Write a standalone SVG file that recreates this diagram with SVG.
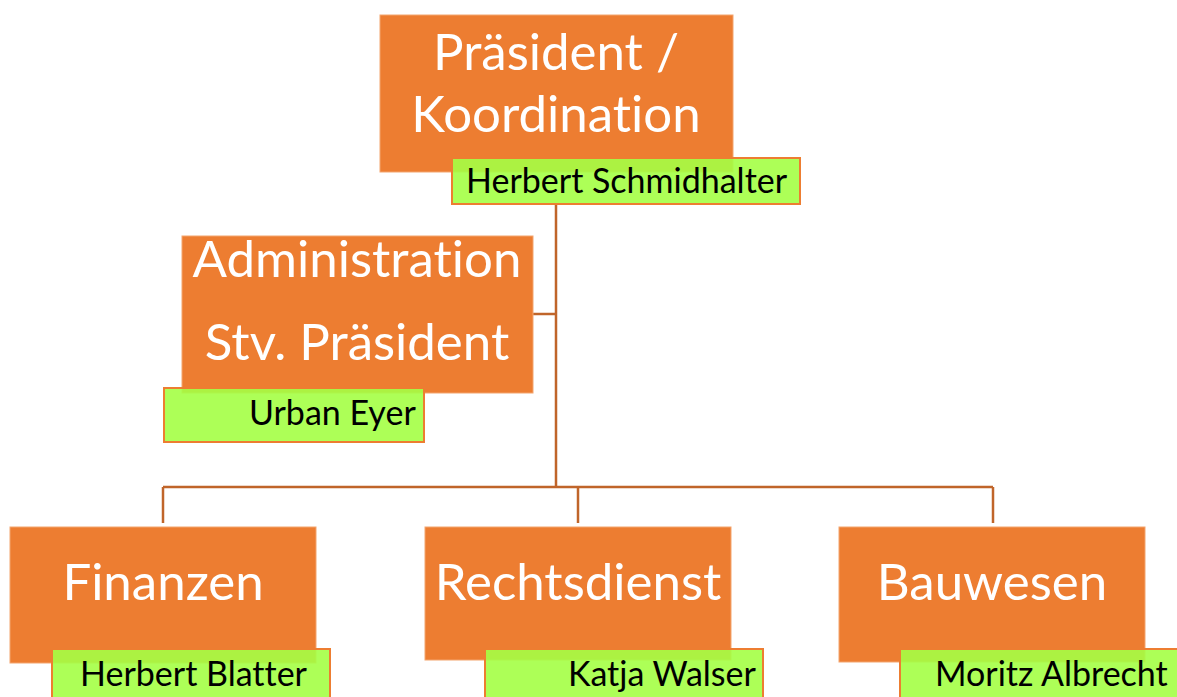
<svg xmlns="http://www.w3.org/2000/svg" width="1177" height="697" viewBox="0 0 1177 697">
<style>
.box{fill:#ed7d31;stroke:#f3a56f;stroke-width:1}
.name{fill:#a4ff45;fill-opacity:0.9;stroke:#ed7d31;stroke-width:2}
.t{font-family:Lato,"Liberation Sans",sans-serif;fill:#ffffff;font-size:51px;text-anchor:middle;font-variant-ligatures:none}
.n{font-family:Lato,"Liberation Sans",sans-serif;fill:#000000;font-size:34px;font-variant-ligatures:none}
.c{fill:none;stroke:#c0652a;stroke-width:2.5}
</style>
<rect width="1177" height="697" fill="#ffffff"/>
<g id="connectors">
<path class="c" d="M556 204 V487"/>
<path class="c" d="M533 314 H556"/>
<path class="c" d="M163 487 H993"/>
<path class="c" d="M163 487 V523"/>
<path class="c" d="M578 487 V523"/>
<path class="c" d="M993 487 V523"/>
</g>
<g id="praesident">
<rect class="box" x="380" y="15" width="353" height="157"/>
<text class="t" x="556" y="70">Präsident /</text>
<text class="t" x="556" y="132">Koordination</text>
<rect class="name" x="452" y="158" width="348" height="46"/>
<text class="n" x="466" y="193">Herbert Schmidhalter</text>
</g>
<g id="administration">
<rect class="box" x="182" y="236" width="351" height="157"/>
<text class="t" x="357" y="277">Administration</text>
<text class="t" x="357" y="360">Stv. Präsident</text>
<rect class="name" x="164" y="388" width="260" height="54"/>
<text class="n" x="249" y="425">Urban Eyer</text>
</g>
<g id="finanzen">
<rect class="box" x="10" y="527" width="306" height="136"/>
<text class="t" x="163" y="600">Finanzen</text>
<rect class="name" x="52" y="649" width="278" height="60"/>
<text class="n" x="80" y="686">Herbert Blatter</text>
</g>
<g id="rechtsdienst">
<rect class="box" x="425" y="527" width="306" height="133"/>
<text class="t" x="578" y="600">Rechtsdienst</text>
<rect class="name" x="485" y="649" width="278" height="60"/>
<text class="n" x="568" y="686">Katja Walser</text>
</g>
<g id="bauwesen">
<rect class="box" x="839" y="527" width="306" height="135"/>
<text class="t" x="992" y="600">Bauwesen</text>
<rect class="name" x="900" y="649" width="290" height="60"/>
<text class="n" x="935" y="686">Moritz Albrecht</text>
</g>
</svg>
